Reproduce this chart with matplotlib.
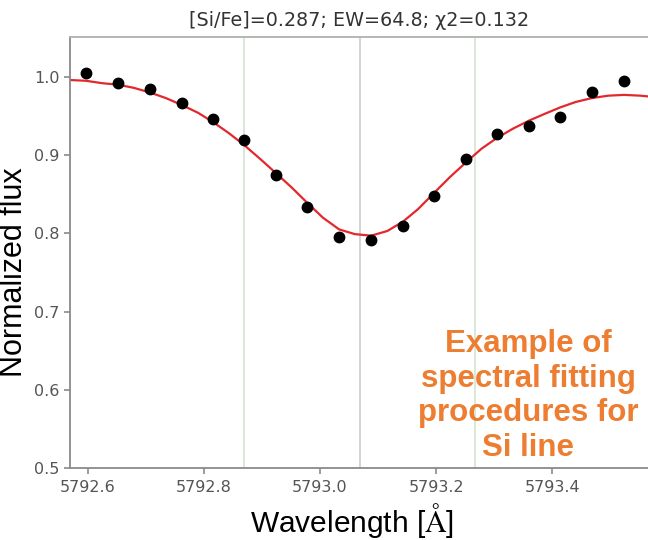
import numpy as np
import matplotlib
matplotlib.use('Agg')
import matplotlib.pyplot as plt

plt.rcParams['mathtext.fontset'] = 'stix'

# observed spectrum (points)
obs_wave = [5792.597, 5792.652, 5792.707, 5792.762, 5792.816, 5792.869,
            5792.924, 5792.978, 5793.033, 5793.088, 5793.143, 5793.197,
            5793.252, 5793.305, 5793.360, 5793.414, 5793.469, 5793.524]
obs_flux = [1.005, 0.992, 0.985, 0.967, 0.946, 0.919,
            0.875, 0.834, 0.795, 0.792, 0.810, 0.848,
            0.895, 0.927, 0.937, 0.949, 0.981, 0.995]

# synthetic fit (red curve)
fit_wave = [5792.569, 5792.597, 5792.624, 5792.652, 5792.679, 5792.707,
            5792.734, 5792.762, 5792.790, 5792.816, 5792.843, 5792.869,
            5792.897, 5792.924, 5792.952, 5792.978, 5793.005, 5793.033,
            5793.060, 5793.088, 5793.116, 5793.143, 5793.169, 5793.197,
            5793.224, 5793.252, 5793.278, 5793.305, 5793.333, 5793.360,
            5793.388, 5793.414, 5793.441, 5793.469, 5793.497, 5793.524,
            5793.552, 5793.566]
fit_flux = [0.996, 0.995, 0.992, 0.990, 0.986, 0.980,
            0.973, 0.964, 0.954, 0.942, 0.928, 0.913,
            0.895, 0.877, 0.858, 0.839, 0.820, 0.805,
            0.799, 0.797, 0.803, 0.815, 0.831, 0.852,
            0.872, 0.891, 0.908, 0.922, 0.934, 0.944,
            0.953, 0.961, 0.968, 0.973, 0.976, 0.977,
            0.976, 0.975]

line_center = 5793.069
window = [5792.869, 5793.267]

title = '[Si/Fe]=0.287; EW=64.8; χ2=0.132'
note = 'Example of\nspectral fitting\nprocedures for\nSi line'

fig = plt.figure(figsize=(6.48, 5.4), dpi=100)
ax = fig.add_axes([70/648, 1-468/540, 590/648, 431/540])

grey = '#8a8a8a'
for w in window:
  ax.axvline(w, color='#cfe2cf', lw=1.1, zorder=1)
ax.axvline(line_center, color='#c9c9c9', lw=1.1, zorder=1)

ax.plot(fit_wave, fit_flux, '-', color='#e3282d', lw=1.6, zorder=2)
ax.plot(obs_wave, obs_flux, 'o', color='k', ms=7.5, zorder=3)

ax.set_xlim(5792.569, 5793.586)
ax.set_ylim(0.5, 1.051)
ax.set_xticks([5792.6, 5792.8, 5793.0, 5793.2, 5793.4])
ax.set_yticks([0.5, 0.6, 0.7, 0.8, 0.9, 1.0])
ax.tick_params(colors=grey, labelcolor='#555555', labelsize=11.5, length=4, width=1.2)
ax.tick_params(axis='x', pad=5)

for s in ['left', 'bottom', 'top']:
  ax.spines[s].set_color(grey)
  ax.spines[s].set_linewidth(1.3)
ax.spines['top'].set_color('#b0b0b0')
ax.spines['right'].set_visible(False)

ax.set_title(title, fontsize=13.8, color='#333333', pad=8, x=0.49)
ax.set_xlabel(r'Wavelength [$\mathrm{\AA}$]', fontsize=21.5, family='Liberation Sans', labelpad=4)
ax.set_ylabel('Normalized flux', fontsize=22, family='Liberation Sans', labelpad=4)
ax.xaxis.label.set_x(0.478)
ax.yaxis.label.set_y(0.455)

fig.text(528/648, 1-396/540, note, ha='center', va='center', fontsize=22.5,
         fontweight='bold', color='#ed7d31', family='Liberation Sans', linespacing=1.2)

fig.savefig('out.png', dpi=100)
